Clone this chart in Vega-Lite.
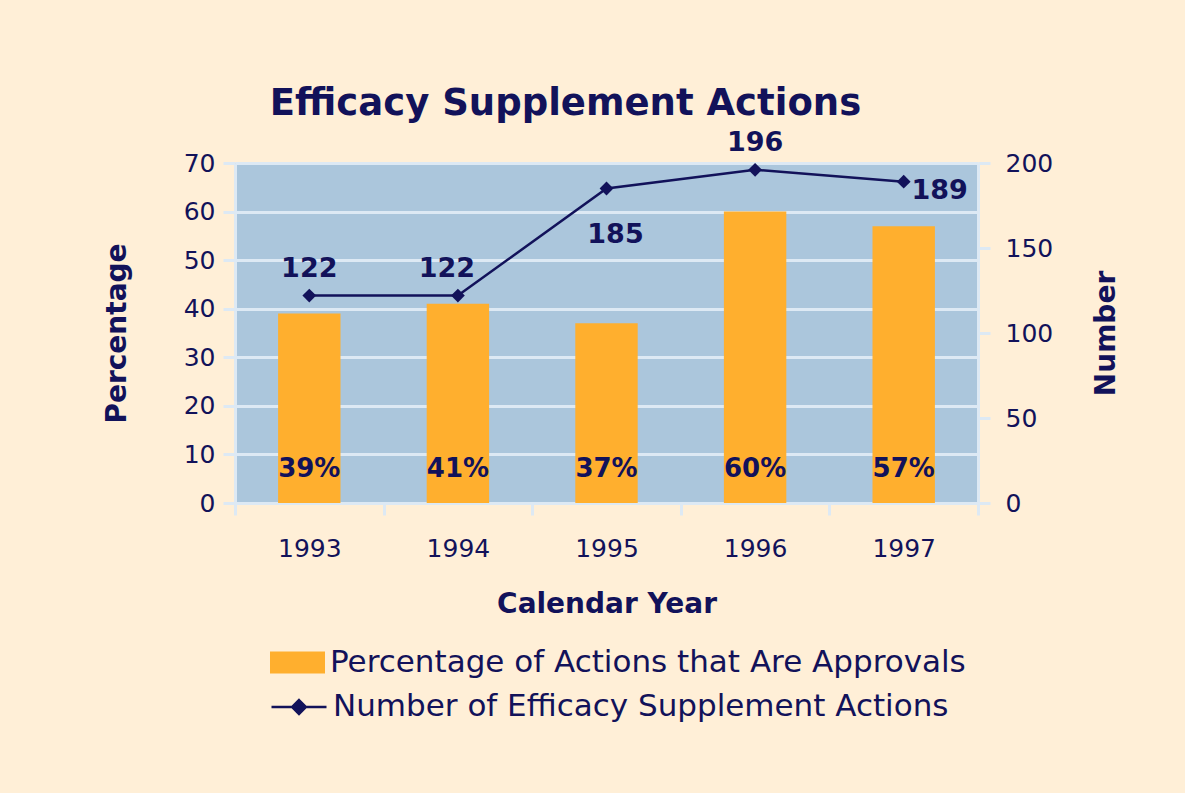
{
  "$schema": "https://vega.github.io/schema/vega-lite/v6.json",
  "width": 743,
  "height": 340,
  "autosize": {"type": "none"},
  "padding": {"left": 235, "top": 163, "right": 207, "bottom": 290},
  "background": "#FFEFD7",
  "title": {
    "text": "Efficacy Supplement Actions",
    "font": "DejaVu Sans",
    "fontSize": 37,
    "fontWeight": "bold",
    "color": "#12125A",
    "anchor": "middle",
    "dx": -41,
    "offset": 6
  },
  "config": {
    "view": {"fill": "#ABC6DC", "stroke": null},
    "font": "DejaVu Sans",
    "axis": {
      "labelFont": "DejaVu Sans",
      "labelFontSize": 25,
      "labelColor": "#12125A",
      "titleFont": "DejaVu Sans",
      "titleFontSize": 28,
      "titleFontWeight": "bold",
      "titleColor": "#12125A",
      "domainColor": "#DDE9F4",
      "domainWidth": 3,
      "tickColor": "#DDE9F4",
      "tickWidth": 3,
      "tickSize": 12,
      "gridColor": "#DDE9F4",
      "gridWidth": 3,
      "gridOpacity": 1
    },
    "legend": {
      "labelFont": "DejaVu Sans",
      "labelFontSize": 31,
      "labelColor": "#12125A",
      "labelLimit": 0,
      "padding": 0
    }
  },
  "data": {
    "values": [
      {"year": "1993", "pct": 39, "num": 122, "pctLabel": "39%"},
      {"year": "1994", "pct": 41, "num": 122, "pctLabel": "41%"},
      {"year": "1995", "pct": 37, "num": 185, "pctLabel": "37%"},
      {"year": "1996", "pct": 60, "num": 196, "pctLabel": "60%"},
      {"year": "1997", "pct": 57, "num": 189, "pctLabel": "57%"}
    ]
  },
  "encoding": {
    "x": {
      "field": "year",
      "type": "nominal",
      "scale": {"paddingInner": 0, "paddingOuter": 0},
      "axis": {
        "title": "Calendar Year",
        "labelAngle": 0,
        "tickBand": "extent",
        "labelPadding": 21,
        "titlePadding": 29,
        "domain": false
      }
    }
  },
  "layer": [
    {
      "encoding": {
        "y": {
          "field": "pct",
          "type": "quantitative",
          "scale": {"domain": [0, 70]},
          "axis": {
            "title": "Percentage",
            "values": [0, 10, 20, 30, 40, 50, 60, 70],
            "labelPadding": 8,
            "titlePadding": 52,
            "grid": true
          }
        }
      },
      "layer": [
        {
          "mark": {"type": "bar", "width": {"band": 0.42}},
          "encoding": {
            "fill": {
              "datum": "Percentage of Actions that Are Approvals",
              "scale": {"range": ["#FFAF2E"]},
              "legend": {
                "title": null,
                "orient": "none",
                "legendX": 35,
                "legendY": 472,
                "symbolType": "M-1,-0.4H1V0.4H-1Z",
                "symbolSize": 3025,
                "symbolStrokeWidth": 0,
                "labelOffset": 5
              }
            }
          }
        },
        {
          "mark": {"type": "text", "font": "DejaVu Sans", "fontSize": 26, "fontWeight": "bold", "color": "#12125A", "baseline": "middle"},
          "encoding": {
            "y": {"datum": 7},
            "text": {"field": "pctLabel"}
          }
        }
      ]
    },
    {
      "encoding": {
        "y": {
          "field": "num",
          "type": "quantitative",
          "scale": {"domain": [0, 200]},
          "axis": {
            "orient": "right",
            "title": "Number",
            "titleAngle": 270,
            "values": [0, 50, 100, 150, 200],
            "labelPadding": 15,
            "titlePadding": 68,
            "grid": false
          }
        }
      },
      "layer": [
        {
          "mark": {"type": "line", "strokeWidth": 2.5},
          "encoding": {
            "stroke": {
              "datum": "Number of Efficacy Supplement Actions",
              "scale": {"range": ["#12125A"]},
              "legend": {
                "title": null,
                "orient": "none",
                "legendX": 35,
                "legendY": 515,
                "symbolType": "M-1,0H1M0,-0.25L0.25,0L0,0.25L-0.25,0Z",
                "symbolSize": 3025,
                "symbolStrokeWidth": 2.5,
                "symbolFillColor": "#12125A",
                "labelOffset": 5
              }
            }
          }
        },
        {
          "mark": {"type": "point", "shape": "diamond", "filled": true, "size": 190, "color": "#12125A", "opacity": 1},
          "encoding": {}
        },
        {
          "transform": [{"filter": "datum.year == '1993' || datum.year == '1996'"}],
          "mark": {"type": "text", "font": "DejaVu Sans", "fontSize": 27, "fontWeight": "bold", "color": "#12125A", "baseline": "middle", "dy": -27},
          "encoding": {"text": {"field": "num"}}
        },
        {
          "transform": [{"filter": "datum.year == '1994'"}],
          "mark": {"type": "text", "font": "DejaVu Sans", "fontSize": 27, "fontWeight": "bold", "color": "#12125A", "baseline": "middle", "dy": -27, "dx": -11},
          "encoding": {"text": {"field": "num"}}
        },
        {
          "transform": [{"filter": "datum.year == '1995'"}],
          "mark": {"type": "text", "font": "DejaVu Sans", "fontSize": 27, "fontWeight": "bold", "color": "#12125A", "baseline": "middle", "dy": 46, "dx": 9},
          "encoding": {"text": {"field": "num"}}
        },
        {
          "transform": [{"filter": "datum.year == '1997'"}],
          "mark": {"type": "text", "font": "DejaVu Sans", "fontSize": 27, "fontWeight": "bold", "color": "#12125A", "baseline": "middle", "dy": 9, "dx": 36},
          "encoding": {"text": {"field": "num"}}
        }
      ]
    }
  ],
  "resolve": {"scale": {"y": "independent", "fill": "independent", "stroke": "independent"}}
}
